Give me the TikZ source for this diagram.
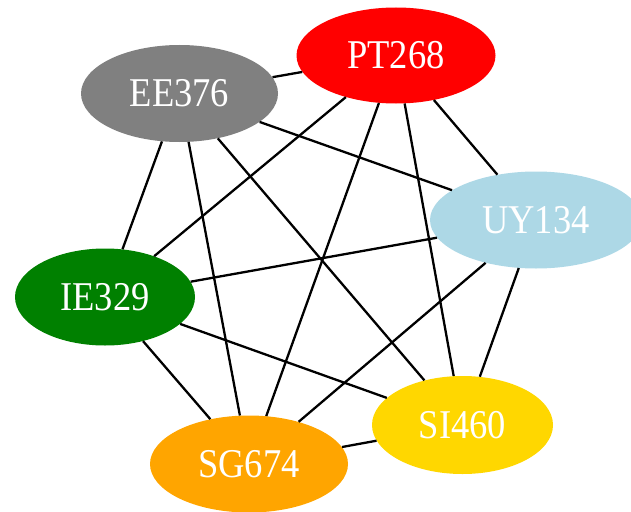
\documentclass[tikz,border=0pt]{standalone}
\usepackage{fontspec}
\setmainfont{Liberation Serif}
\usetikzlibrary{shapes.geometric}
\definecolor{lightblueC}{HTML}{ADD8E6}
\definecolor{goldC}{HTML}{FFD700}
\definecolor{orangeC}{HTML}{FFA500}
\definecolor{greenC}{HTML}{008000}
\definecolor{grayC}{HTML}{808080}
% labels are set slightly taller than wide
\newcommand\tallname[1]{\scalebox{1}[1.12]{#1}}
\tikzset{
  vert/.style={ellipse, inner sep=0pt, text=white, font=\fontsize{36.5}{40}\selectfont},
  edge/.style={line width=2.3pt, black}
}
\begin{document}
\begin{tikzpicture}[x=1pt, y=-1pt]
  \useasboundingbox (0,0) rectangle (631,511);
  \clip (0,0) rectangle (631,511);
  % vertices
  \node[vert, fill=red,        minimum width=199pt, minimum height=96pt] (pt) at (396,55.5) {\tallname{PT268}};
  \node[vert, fill=grayC,      minimum width=197pt, minimum height=97pt] (ee) at (179.5,93.5) {\tallname{EE376}};
  \node[vert, fill=lightblueC, minimum width=212pt, minimum height=97pt] (uy) at (536,220) {\tallname{UY134}};
  \node[vert, fill=greenC,     minimum width=180pt, minimum height=97pt] (ie) at (105,297) {\tallname{IE329}};
  \node[vert, fill=goldC,      minimum width=181pt, minimum height=98pt] (si) at (462.5,425) {\tallname{SI460}};
  \node[vert, fill=orangeC,    minimum width=198pt, minimum height=97pt] (sg) at (249,464) {\tallname{SG674}};
  % every pair of vertices is joined
  \draw[edge] (ee) -- (pt);
  \draw[edge] (ee) -- (uy);
  \draw[edge] (ee) -- (ie);
  \draw[edge] (ee) -- (sg);
  \draw[edge] (ee) -- (si);
  \draw[edge] (pt) -- (ie);
  \draw[edge] (pt) -- (sg);
  \draw[edge] (pt) -- (si);
  \draw[edge] (pt) -- (uy);
  \draw[edge] (uy) -- (ie);
  \draw[edge] (uy) -- (sg);
  \draw[edge] (uy) -- (si);
  \draw[edge] (ie) -- (si);
  \draw[edge] (ie) -- (sg);
  \draw[edge] (sg) -- (si);
\end{tikzpicture}
\end{document}
